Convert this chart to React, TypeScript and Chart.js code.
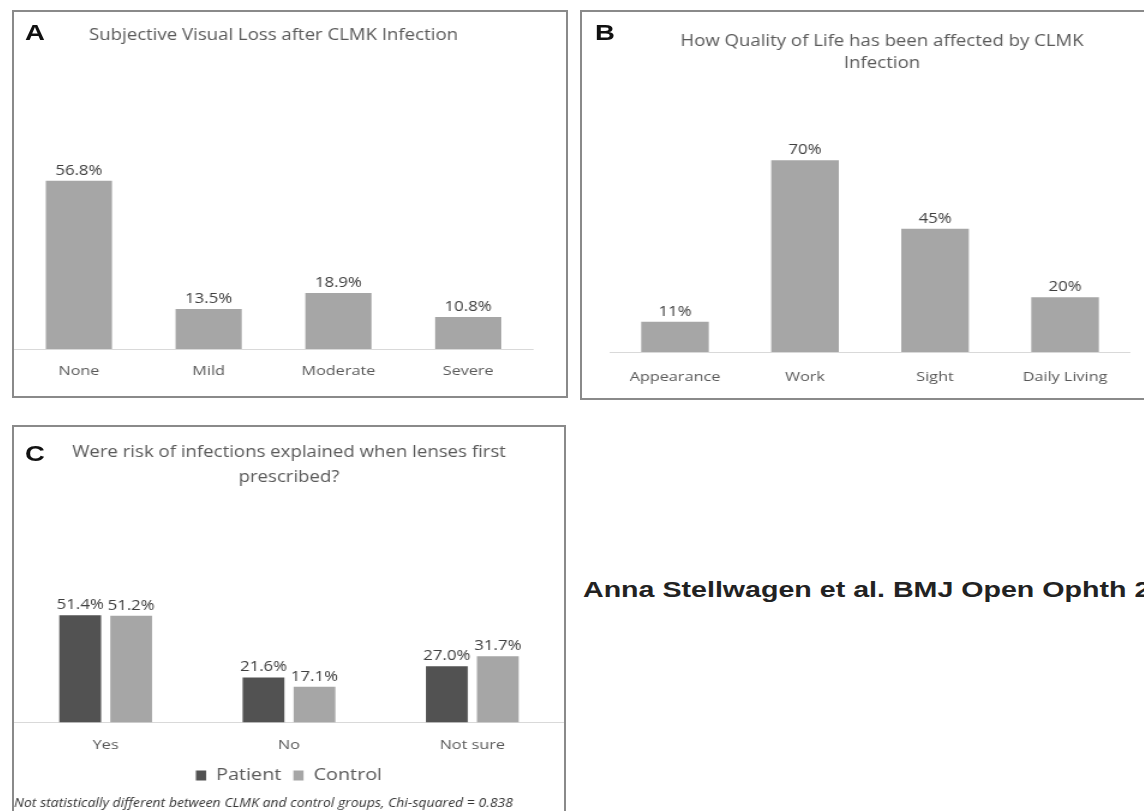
import React, { useEffect, useRef } from "react";
import { Chart, registerables } from "chart.js";

Chart.register(...registerables);

// ---------- data ----------
const visualLossCategories = ["None", "Mild", "Moderate", "Severe"];
const visualLossValues = [56.8, 13.5, 18.9, 10.8];

const qolCategories = ["Appearance", "Work", "Sight", "Daily Living"];
const qolValues = [11, 70, 45, 20];

const riskCategories = ["Yes", "No", "Not sure"];
const patientValues = [51.4, 21.6, 27.0];
const controlValues = [51.2, 17.1, 31.7];

const titleA = "Subjective Visual Loss after CLMK Infection";
const titleB = ["How Quality of Life has been affected by CLMK", "Infection"];
const titleC = ["Were risk of infections explained when lenses first", "prescribed?"];
const footnoteC =
  "Not statistically different between CLMK and control groups, Chi-squared = 0.838";
const byline = "Anna Stellwagen et al. BMJ Open Ophth 2021";

// ---------- styles ----------
const FONT = "'Open Sans', 'Liberation Sans', sans-serif";
const TEXT = "#595959";
const LIGHT_BAR = "#a6a6a6";
const DARK_BAR = "#525252";
const STRETCH = 1.2; // the figure is drawn slightly wide, like the reference

function valueLabelPlugin(decimals: number) {
  return {
    id: "valueLabels",
    afterDatasetsDraw(chart: any) {
      const ctx = chart.ctx;
      ctx.save();
      ctx.font = `14px ${FONT}`;
      ctx.fillStyle = "#404040";
      ctx.textAlign = "center";
      ctx.textBaseline = "bottom";
      chart.data.datasets.forEach((ds: any, i: number) => {
        const meta = chart.getDatasetMeta(i);
        meta.data.forEach((el: any, j: number) => {
          const v = Number(ds.data[j]);
          ctx.fillText(v.toFixed(decimals) + "%", el.x, el.y - 3);
        });
      });
      ctx.restore();
    },
  };
}

function xAxis(tickPadding: number, axisHeight: number) {
  return {
    grid: { display: false, drawTicks: false },
    border: { display: true, color: "#d9d9d9", width: 1 },
    ticks: { color: TEXT, font: { family: FONT, size: 13.5 }, padding: tickPadding },
    afterFit(scale: any) {
      scale.height = axisHeight;
    },
  };
}

function yAxis(max: number) {
  return { display: false, min: 0, max };
}

// an empty value axis on the right, used only as blank margin
function blankRightAxis(max: number, width: number) {
  return {
    display: true,
    position: "right",
    min: 0,
    max,
    grid: { display: false, drawTicks: false },
    border: { display: false },
    ticks: { display: false },
    afterFit(scale: any) {
      scale.width = width;
    },
  };
}

function ChartCanvas({
  cssWidth,
  height,
  config,
}: {
  cssWidth: number;
  height: number;
  config: () => any;
}) {
  const ref = useRef<HTMLCanvasElement | null>(null);
  useEffect(() => {
    if (!ref.current) return;
    const chart = new Chart(ref.current, config());
    return () => chart.destroy();
  }, []);
  return (
    <canvas
      ref={ref}
      width={Math.round(cssWidth / STRETCH)}
      height={height}
      style={{ display: "block", width: cssWidth, height }}
    />
  );
}

const panelBase: React.CSSProperties = {
  position: "absolute",
  boxSizing: "border-box",
  border: "2px solid #8a8a8a",
  background: "#fff",
  overflow: "hidden",
};

const letterStyle: React.CSSProperties = {
  position: "absolute",
  fontFamily: "'Liberation Sans', Arial, sans-serif",
  fontWeight: "bold",
  fontSize: 22,
  lineHeight: "22px",
  color: "#111",
  transform: "scaleX(1.25)",
  transformOrigin: "left center",
};

export default function App() {
  const configA = () => ({
    type: "bar",
    data: {
      labels: visualLossCategories,
      datasets: [{ label: "Visual loss", data: visualLossValues, backgroundColor: LIGHT_BAR }],
    },
    options: {
      responsive: false,
      animation: false,
      layout: { padding: { left: 0, right: 27.5, top: 0, bottom: 0 } },
      plugins: {
        legend: { display: false },
        tooltip: { enabled: false },
        title: {
          display: true,
          text: titleA,
          color: TEXT,
          font: { family: FONT, size: 15.5, weight: "normal", lineHeight: 1.2 },
          padding: { top: 14, bottom: 8.4 },
        },
      },
      datasets: { bar: { categoryPercentage: 1, barPercentage: 0.51 } },
      scales: { x: xAxis(14, 47), y: yAxis(100) },
    },
    plugins: [valueLabelPlugin(1)],
  });

  const configB = () => ({
    type: "bar",
    data: {
      labels: qolCategories,
      datasets: [{ label: "Quality of life", data: qolValues, backgroundColor: LIGHT_BAR }],
    },
    options: {
      responsive: false,
      animation: false,
      layout: { padding: { left: 23.3, right: 3.3, top: 0, bottom: 0 } },
      plugins: {
        legend: { display: false },
        tooltip: { enabled: false },
        title: {
          display: true,
          text: titleB,
          color: TEXT,
          font: { family: FONT, size: 15.5, weight: "normal", lineHeight: 1.419 },
          padding: { top: 19, bottom: 3 },
        },
      },
      datasets: { bar: { categoryPercentage: 1, barPercentage: 0.52 } },
      scales: { x: xAxis(17, 46), y: blankRightAxis(100, 20) },
    },
    plugins: [valueLabelPlugin(0)],
  });

  const configC = () => ({
    type: "bar",
    data: {
      labels: riskCategories,
      datasets: [
        { label: "Patient", data: patientValues, backgroundColor: DARK_BAR },
        { label: "Control", data: controlValues, backgroundColor: LIGHT_BAR },
      ],
    },
    options: {
      responsive: false,
      animation: false,
      layout: { padding: { left: 0, right: 0, top: 0, bottom: 0 } },
      plugins: {
        tooltip: { enabled: false },
        title: {
          display: true,
          text: titleC,
          color: TEXT,
          font: { family: FONT, size: 15.5, weight: "normal", lineHeight: 1.613 },
          padding: { top: 13.5, bottom: 23.5 },
        },
        legend: {
          display: true,
          position: "bottom",
          labels: {
            color: TEXT,
            font: { family: FONT, size: 16.5 },
            boxWidth: 8.5,
            boxHeight: 10,
            padding: 10,
          },
        },
        subtitle: {
          display: true,
          position: "bottom",
          align: "start",
          text: footnoteC,
          color: "#333",
          font: { family: FONT, size: 11.7, style: "italic", lineHeight: 1.2 },
          padding: { top: 2.5, bottom: 2.8 },
        },
      },
      datasets: { bar: { categoryPercentage: 0.556, barPercentage: 0.82 } },
      scales: { x: xAxis(15, 34.75), y: yAxis(100) },
    },
    plugins: [valueLabelPlugin(1)],
  });

  return (
    <div
      style={{
        position: "fixed",
        left: 0,
        top: 0,
        width: 1144,
        height: 811,
        overflow: "hidden",
        background: "#fff",
      }}
    >
      {/* Panel A */}
      <div style={{ ...panelBase, left: 12, top: 10, width: 556, height: 388 }}>
        <ChartCanvas cssWidth={552} height={384} config={configA} />
        <div style={{ ...letterStyle, left: 11, top: 10 }}>A</div>
      </div>

      {/* Panel B */}
      <div style={{ ...panelBase, left: 580, top: 10, width: 580, height: 390 }}>
        <ChartCanvas cssWidth={576} height={386} config={configB} />
        <div style={{ ...letterStyle, left: 13, top: 10 }}>B</div>
      </div>

      {/* Panel C */}
      <div style={{ ...panelBase, left: 12, top: 425, width: 554, height: 400 }}>
        <ChartCanvas cssWidth={550} height={386} config={configC} />
        <div style={{ ...letterStyle, left: 11, top: 16 }}>C</div>
      </div>

      {/* Byline */}
      <div
        style={{
          position: "absolute",
          left: 583,
          top: 577,
          whiteSpace: "nowrap",
          fontFamily: "'Liberation Sans', Arial, sans-serif",
          fontWeight: "bold",
          fontSize: 22,
          lineHeight: "26px",
          color: "#222",
          transform: "scaleX(1.3)",
          transformOrigin: "left center",
        }}
      >
        {byline}
      </div>
    </div>
  );
}
